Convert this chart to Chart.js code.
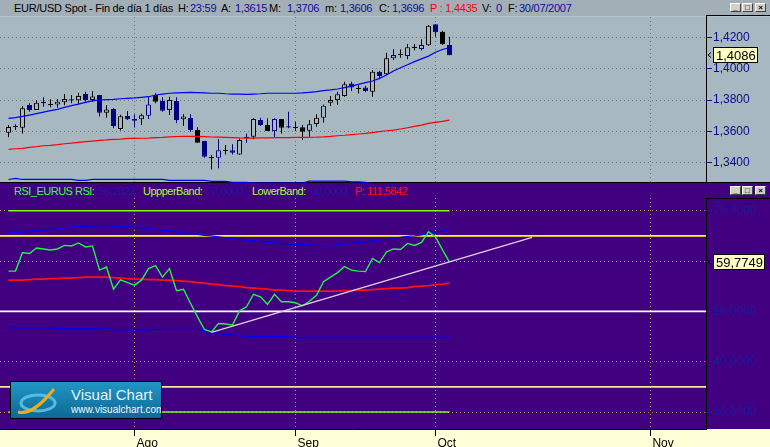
<!DOCTYPE html>
<html>
<head>
<meta charset="utf-8">
<script src="https://cdn.jsdelivr.net/npm/chart.js@4.4.1/dist/chart.umd.min.js"></script>
<style>
  body { margin: 0; width: 770px; height: 447px; overflow: hidden; position: relative;
         background: #a8b8c0; font-family: "Liberation Sans", Arial, sans-serif; }
  #title { position: absolute; left: 0; top: 0; width: 770px; height: 16px; background: #a3afb6;
           border-bottom: 1px solid #b8c4ca; font-size: 11px; letter-spacing: -0.25px; }
  #title span { position: absolute; top: 2px; line-height: 12px; white-space: nowrap; color: #000; }
  #title span.v { color: #0c0c9c; }
  #title span.r { color: #ff0000; }
  .box { position: absolute; border-left: 1px solid #000; border-top: 1px solid #000; }
  #rsiPanel { position: absolute; left: 0; top: 182px; width: 770px; height: 246px;
              background: #400080; border-top: 1px solid #000; }
  #rsiHead span { position: absolute; top: 185px; line-height: 12px; font-size: 11px;
                  letter-spacing: -0.5px; white-space: nowrap; }
  #rsiHead .dv { color: #1e1aa0; }
  #rsiHead .lg { color: #a8ff38; }
  #xStrip { position: absolute; left: 0; top: 429px; width: 770px; height: 18px; background: #ffffd7; }
  .btns { position: absolute; left: 730px; width: 38px; height: 10px; }
  .btns i { position: absolute; top: 0; width: 11px; height: 9px; background: #d4d0c8;
            border-top: 1px solid #fff; border-left: 1px solid #fff; border-right: 1px solid #404040;
            border-bottom: 1px solid #404040; box-sizing: border-box; font-style: normal;
            font-size: 8px; line-height: 7px; text-align: center; font-weight: bold; color: #000; }
  canvas { position: absolute; left: 0; }
  #logo { position: absolute; left: 10px; top: 381px; width: 150px; height: 36px; border: 1px solid #000;
          background: linear-gradient(#2196c4, #0d6894); overflow: hidden; }
  #logo .t1 { position: absolute; left: 60px; top: 4px; font-size: 15px; color: #e8f4fb; }
  #logo .t2 { position: absolute; left: 60px; top: 22px; font-size: 10px; color: #f2f8fc; }
</style>
</head>
<body>
<div id="title">
  <span style="left:14px">EUR/USD Spot - Fin de día 1 días</span>
  <span style="left:178px">H:</span><span class="v" style="left:190px">23:59</span>
  <span style="left:221px">A:</span><span class="v" style="left:235px">1,3615</span>
  <span style="left:269px">M:</span><span class="v" style="left:287px">1,3706</span>
  <span style="left:325px">m:</span><span class="v" style="left:340px">1,3606</span>
  <span style="left:379px">C:</span><span class="v" style="left:392px">1,3696</span>
  <span class="r" style="left:430px">P : 1,4435</span>
  <span style="left:482px">V:</span><span class="v" style="left:496px">0</span>
  <span style="left:508px">F:</span><span class="v" style="left:519px">30/07/2007</span>
</div>
<div class="btns" style="top:3px"><i style="left:0">_</i><i style="left:12px">□</i><i style="left:25px">×</i></div>
<div class="box" style="left:706px;top:15px;width:64px;height:168px"></div>

<div id="rsiPanel"></div>
<div id="xStrip"></div>
<div class="box" style="left:706px;top:198px;width:64px;height:231px"></div>
<div id="rsiHead">
  <span style="left:14px;color:#3cff3c">RSI_EURUS RSI:</span>
  <span class="dv" style="left:99px">56,2822</span>
  <span class="lg" style="left:143px">UppperBand:</span>
  <span class="dv" style="left:207px">70,0000</span>
  <span class="lg" style="left:252px">LowerBand:</span>
  <span class="dv" style="left:311px">30,0000</span>
  <span style="left:355px;color:#ff1010">P: 111,5842</span>
</div>
<div class="btns" style="top:186px"><i style="left:0">_</i><i style="left:12px">□</i><i style="left:25px">×</i></div>

<canvas id="priceCanvas" width="770" height="166" style="top:17px"></canvas>
<canvas id="rsiCanvas" width="770" height="264" style="top:183px"></canvas>

<div id="logo">
  <svg width="52" height="34" style="position:absolute;left:3px;top:2px">
    <ellipse cx="24" cy="19" rx="17" ry="8" fill="none" stroke="#62c4ee" stroke-width="3" opacity="0.85"/>
    <path d="M4 28 C16 31 28 20 40 5" stroke="#f2aa1e" stroke-width="3" fill="none"/>
  </svg>
  <div class="t1">Visual Chart</div>
  <div class="t2">www.visualchart.com</div>
</div>

<script>
// EUR/USD daily, 6 Jul 2007 .. 3 Oct 2007 (one entry per session)
const priceOpen = [1.3591,1.3636,1.3623,1.3768,1.3736,1.3789,1.3771,1.3772,1.3785,1.3801,
  1.3798,1.3838,1.3800,1.3832,1.3719,1.3742,1.3615,1.3698,1.3681,1.3677,
  1.3700,1.3832,1.3794,1.3736,1.3794,1.3677,1.3685,1.3608,1.3538,1.3433,
  1.3432,1.3479,1.3479,1.3453,1.3563,1.3566,1.3672,1.3640,1.3602,1.3679,
  1.3631,1.3627,1.3626,1.3604,1.3647,1.3687,1.3783,1.3800,1.3826,1.3906,
  1.3875,1.3879,1.3853,1.3981,1.3964,1.4066,1.4092,1.4081,1.4137,1.4126,
  1.4150,1.4283,1.4236,1.4151];
const priceHigh = [1.3640,1.3645,1.3762,1.3779,1.3800,1.3817,1.3804,1.3806,1.3838,1.3832,
  1.3847,1.3853,1.3857,1.3832,1.3768,1.3747,1.3706,1.3730,1.3708,1.3713,
  1.3821,1.3843,1.3817,1.3821,1.3817,1.3709,1.3709,1.3626,1.3540,1.3449,
  1.3551,1.3513,1.3517,1.3555,1.3587,1.3683,1.3687,1.3683,1.3683,1.3679,
  1.3725,1.3662,1.3640,1.3672,1.3709,1.3772,1.3826,1.3853,1.3917,1.3917,
  1.3896,1.3891,1.3991,1.3987,1.4102,1.4123,1.4123,1.4157,1.4157,1.4187,
  1.4279,1.4283,1.4241,1.4204];
const priceLow = [1.3562,1.3608,1.3587,1.3725,1.3736,1.3757,1.3753,1.3751,1.3766,1.3779,
  1.3774,1.3789,1.3789,1.3694,1.3687,1.3619,1.3606,1.3672,1.3625,1.3640,
  1.3679,1.3779,1.3725,1.3704,1.3651,1.3634,1.3598,1.3528,1.3432,1.3357,
  1.3364,1.3453,1.3453,1.3449,1.3528,1.3549,1.3634,1.3602,1.3560,1.3587,
  1.3619,1.3602,1.3545,1.3566,1.3630,1.3655,1.3762,1.3768,1.3821,1.3857,
  1.3842,1.3849,1.3821,1.3932,1.3960,1.4055,1.4070,1.4060,1.4115,1.4115,
  1.4145,1.4204,1.4151,1.4086];
const priceClose = [1.3628,1.3627,1.3747,1.3736,1.3783,1.3779,1.3770,1.3789,1.3806,1.3800,
  1.3825,1.3800,1.3823,1.3719,1.3740,1.3634,1.3696,1.3677,1.3668,1.3702,
  1.3772,1.3789,1.3732,1.3800,1.3672,1.3694,1.3608,1.3528,1.3438,1.3432,
  1.3479,1.3477,1.3464,1.3545,1.3561,1.3679,1.3640,1.3602,1.3679,1.3623,
  1.3627,1.3625,1.3598,1.3645,1.3687,1.3764,1.3800,1.3836,1.3900,1.3879,
  1.3874,1.3857,1.3981,1.3953,1.4066,1.4087,1.4091,1.4136,1.4136,1.4151,
  1.4273,1.4232,1.4155,1.4086];
const bandUpper = [1.3683,1.3687,1.3696,1.3704,1.3713,1.3723,1.3732,1.3740,1.3753,1.3764,
  1.3774,1.3785,1.3794,1.3800,1.3802,1.3804,1.3808,1.3811,1.3813,1.3817,
  1.3821,1.3832,1.3838,1.3843,1.3845,1.3847,1.3849,1.3847,1.3845,1.3843,
  1.3843,1.3840,1.3838,1.3838,1.3836,1.3838,1.3840,1.3843,1.3843,1.3843,
  1.3843,1.3843,1.3845,1.3849,1.3853,1.3860,1.3864,1.3870,1.3879,1.3889,
  1.3900,1.3911,1.3921,1.3938,1.3960,1.3985,1.4006,1.4025,1.4045,1.4062,
  1.4080,1.4105,1.4122,1.4134];
const priceAverage = [1.3485,1.3489,1.3491,1.3498,1.3502,1.3508,1.3511,1.3515,1.3521,1.3525,
  1.3530,1.3534,1.3538,1.3542,1.3545,1.3549,1.3551,1.3555,1.3555,1.3556,
  1.3557,1.3560,1.3562,1.3565,1.3567,1.3568,1.3568,1.3568,1.3566,1.3564,
  1.3563,1.3562,1.3560,1.3558,1.3557,1.3557,1.3558,1.3559,1.3560,1.3560,
  1.3560,1.3561,1.3561,1.3562,1.3563,1.3565,1.3568,1.3572,1.3575,1.3579,
  1.3583,1.3587,1.3592,1.3598,1.3604,1.3608,1.3615,1.3623,1.3632,1.3640,
  1.3651,1.3657,1.3664,1.3672];
const bandLower = [1.3293,1.3300,1.3293,1.3293,1.3293,1.3293,1.3293,1.3293,1.3293,1.3293,
  1.3287,1.3287,1.3293,1.3293,1.3293,1.3293,1.3293,1.3293,1.3293,1.3293,
  1.3293,1.3293,1.3293,1.3287,1.3287,1.3287,1.3287,1.3287,1.3287,1.3281,
  1.3281,1.3281,1.3274,1.3274,1.3274,1.3270,1.3270,1.3270,1.3270,1.3270,
  1.3270,1.3270,1.3270,1.3282,1.3282,1.3282,1.3282,1.3282,1.3282,1.3278,
  1.3278,1.3274,1.3265,1.3255,1.3240,1.3225,1.3210,1.3195,1.3180,1.3165,
  1.3150,1.3135,1.3122,1.3110];

const rsiValues = [58.0,58.0,61.7,61.5,62.6,62.4,62.2,62.4,63.1,63.0,
  63.6,62.8,63.0,58.2,58.8,54.4,56.28,55.7,55.2,56.2,
  58.5,59.1,56.8,58.5,54.1,54.4,51.6,48.9,46.4,45.9,
  47.6,47.5,47.3,50.1,50.9,53.4,52.9,51.4,53.4,51.9,
  51.9,51.7,51.1,52.0,53.2,55.9,56.8,57.7,58.9,58.2,
  58.0,57.9,60.5,59.7,61.8,62.4,62.3,63.5,63.1,63.7,
  65.8,64.8,62.2,59.7749];
const rsiAverage = [56.2,56.2,56.2,56.3,56.4,56.4,56.5,56.5,56.6,56.6,
  56.7,56.8,56.8,56.8,56.8,56.7,56.6,56.5,56.4,56.4,
  56.3,56.3,56.2,56.2,56.1,56.0,55.9,55.7,55.6,55.4,
  55.3,55.1,55.0,54.9,54.7,54.6,54.5,54.4,54.2,54.2,
  54.1,54.0,54.0,54.0,54.0,54.0,54.0,54.0,54.1,54.1,
  54.2,54.2,54.3,54.4,54.5,54.6,54.6,54.7,54.9,55.0,
  55.1,55.3,55.4,55.6];
const rsiUpper = [65.7,65.7,65.7,66.0,66.1,66.2,66.2,66.5,66.6,66.8,
  66.9,66.9,67.0,67.0,67.0,67.0,66.9,66.8,66.8,66.6,
  66.5,66.3,66.1,66.0,65.8,65.6,65.5,65.3,65.1,65.0,
  64.8,64.6,64.4,64.3,64.1,64.0,63.9,63.7,63.6,63.5,
  63.4,63.3,63.3,63.2,63.1,63.0,63.0,63.2,63.4,63.5,
  63.7,63.8,64.0,64.2,64.3,64.5,64.7,64.9,65.0,65.2,
  65.5,65.8,66.0,66.3];
const rsiLower = [46.7,46.7,46.7,46.7,46.7,46.7,46.7,46.5,46.5,46.5,
  46.5,46.5,46.5,46.5,46.5,46.3,46.3,46.3,46.3,46.3,
  46.3,46.4,46.4,46.4,46.4,46.4,46.4,46.4,46.2,45.9,
  45.6,45.5,45.3,45.2,45.0,45.0,45.0,45.0,45.0,45.0,
  45.0,44.8,44.8,44.8,44.8,44.8,44.8,44.8,44.8,44.8,
  44.8,44.8,44.8,44.8,44.8,44.8,44.8,44.8,44.8,44.8,
  44.8,44.8,44.8,44.8];
const rsiOuterLevels = [70, 30];     // green guides, drawn over the data span
const rsiBandLevels = [65, 35];      // yellow
const rsiMidLevel = 50;              // white
const trendStart = [29, 45.8];       // hand drawn trend line on the RSI
const trendEnd = [74.8, 64.7];

const xTickIndex = [18, 41, 61, 91.7];
const xTickLabels = ['Ago', 'Sep', 'Oct', 'Nov'];
const priceTicks = [1.34, 1.36, 1.38, 1.40, 1.42];
const rsiTicks = [30, 40, 50, 60, 70];

Chart.defaults.font.family = '"Liberation Sans", Arial, sans-serif';
Chart.defaults.animation = false;

const PANEL = '#a8b8c0';
const NAVY = '#000080';
const INK = '#000000';
// bar spacing is 7px, first bar centred at 8.5px, plot 706px wide
const xMin = -8.5 / 7;
const xMax = (706 - 8.5) / 7;

const pts = arr => arr.map((v, i) => ({ x: i, y: v }));
const comma = v => v.toFixed(4).replace('.', ',');

// candle colour alternates black / navy (phase shifts once in Aug)
function inkFor(i) {
  const p = (i >= 18 && i <= 40) ? i + 1 : i;
  return p % 2 ? NAVY : INK;
}

function xScale(showLabels, gridColor) {
  return {
    type: 'linear', min: xMin, max: xMax, offset: false,
    afterBuildTicks: s => { s.ticks = xTickIndex.map(v => ({ value: v })); },
    afterFit: s => { s.height = showLabels ? 18 : 0; s.paddingLeft = 0; s.paddingRight = 0; },
    ticks: {
      display: showLabels, autoSkip: false, maxRotation: 0, align: 'start', labelOffset: 2, padding: 0,
      color: '#000', font: { size: 12 }, callback: (v, i) => xTickLabels[i]
    },
    grid: { offset: false, color: gridColor, drawTicks: showLabels, tickLength: 7, tickColor: '#000' },
    border: { display: showLabels, color: '#000', dash: [1, 3] }
  };
}

function yScale(min, max, ticks, labelColor, gridColor) {
  return {
    position: 'right', min: min, max: max,
    afterBuildTicks: s => { s.ticks = ticks.map(v => ({ value: v })); },
    afterFit: s => { s.width = 64; s.paddingTop = 0; s.paddingBottom = 0; },
    ticks: { color: labelColor, padding: 1, font: { size: 12 }, callback: v => comma(v) },
    grid: { color: gridColor, tickLength: 6, tickColor: labelColor },
    border: { display: false, dash: [1, 3] }
  };
}

// yellow tag with the last value, on the right axis
const lastValueTag = {
  id: 'lastValueTag',
  afterDraw(chart, args, opts) {
    const { ctx } = chart;
    const y = Math.round(chart.scales.y.getPixelForValue(opts.value));
    const x = chart.chartArea.right;
    const text = comma(opts.value);
    ctx.save();
    ctx.font = '13px "Liberation Sans", Arial, sans-serif';
    const w = Math.round(ctx.measureText(text).width) + 5;
    ctx.fillStyle = '#ffffc4';
    ctx.fillRect(x + 7, y - 8, w, 16);
    ctx.strokeStyle = '#000';
    ctx.lineWidth = 1;
    ctx.strokeRect(x + 7.5, y - 7.5, w - 1, 15);
    ctx.fillStyle = '#000';
    ctx.textBaseline = 'middle';
    ctx.fillText(text, x + 10, y + 1);
    ctx.beginPath();
    ctx.moveTo(x + 5, y - 2.5); ctx.lineTo(x + 2, y); ctx.lineTo(x + 5, y + 2.5);
    ctx.stroke();
    ctx.restore();
  }
};

const bodyData = priceOpen.map((o, i) => {
  let lo = Math.min(o, priceClose[i]);
  let hi = Math.max(o, priceClose[i]);
  if (hi - lo < 0.0008) { const m = (hi + lo) / 2; lo = m - 0.0004; hi = m + 0.0004; }
  return { x: i, y: [lo, hi] };
});
const wickData = priceLow.map((l, i) => ({ x: i, y: [l, priceHigh[i]] }));
const isHollow = i => priceClose[i] - priceOpen[i] > 0.0004;

const line = (data, color, order, width) => ({
  type: 'line', data: data, borderColor: color, borderWidth: width || 1.2,
  pointRadius: 0, fill: false, order: order
});

new Chart(document.getElementById('priceCanvas'), {
  type: 'bar',
  data: {
    datasets: [
      Object.assign(line(pts(bandUpper), '#0000ff', 1), { label: 'Banda superior' }),
      Object.assign(line(pts(priceAverage), '#ff0000', 1), { label: 'Media' }),
      Object.assign(line(pts(bandLower), '#0000ff', 1), { label: 'Banda inferior' }),
      {
        type: 'bar', label: 'Cuerpo', data: bodyData, order: 2, grouped: false,
        barThickness: 5, borderWidth: 1, borderSkipped: false, inflateAmount: 0,
        borderColor: c => inkFor(c.dataIndex),
        backgroundColor: c => isHollow(c.dataIndex) ? PANEL : inkFor(c.dataIndex)
      },
      {
        type: 'bar', label: 'Mecha', data: wickData, order: 3, grouped: false,
        barThickness: 1, borderWidth: 0, inflateAmount: 0,
        backgroundColor: c => inkFor(c.dataIndex)
      }
    ]
  },
  options: {
    responsive: false,
    layout: { padding: 0 },
    plugins: { legend: { display: false }, tooltip: { enabled: false },
               lastValueTag: { value: priceClose[priceClose.length - 1] } },
    scales: {
      x: xScale(false, '#6c7478'),
      y: yScale(1.32705, 1.43295, priceTicks, '#0a0a8c', '#6c7478')
    }
  },
  plugins: [lastValueTag]
});

const span = v => [{ x: xMin - 1, y: v }, { x: xMax + 1, y: v }];
const dataSpan = v => [{ x: 0, y: v }, { x: rsiValues.length - 1, y: v }];

new Chart(document.getElementById('rsiCanvas'), {
  type: 'line',
  data: {
    datasets: [
      line([{ x: trendStart[0], y: trendStart[1] }, { x: trendEnd[0], y: trendEnd[1] }], '#e4cce4', 1, 1.3),
      line(pts(rsiValues), '#26f04a', 2, 1.4),
      line(pts(rsiAverage), '#ff1010', 3, 1.8),
      line(pts(rsiUpper), '#0000ff', 3, 1.3),
      line(pts(rsiLower), '#0000ff', 3, 1.3),
      line(span(rsiMidLevel), '#ffffff', 4, 1.6),
      line(span(rsiBandLevels[0]), '#ffff00', 4, 1.6),
      line(span(rsiBandLevels[1]), '#eeee90', 4, 1.6),
      line(dataSpan(rsiOuterLevels[0]), '#80ff00', 4, 1.6),
      line(dataSpan(rsiOuterLevels[1]), '#80ff00', 4, 1.6)
    ]
  },
  options: {
    responsive: false,
    layout: { padding: { top: 15, left: 0, right: 0, bottom: 0 } },
    plugins: { legend: { display: false }, tooltip: { enabled: false },
               lastValueTag: { value: rsiValues[rsiValues.length - 1] } },
    scales: {
      x: xScale(true, '#a09868'),
      y: yScale(26.622, 72.524, rsiTicks, '#1c1ca0', '#a09868')
    }
  },
  plugins: [lastValueTag]
});
</script>
</body>
</html>
